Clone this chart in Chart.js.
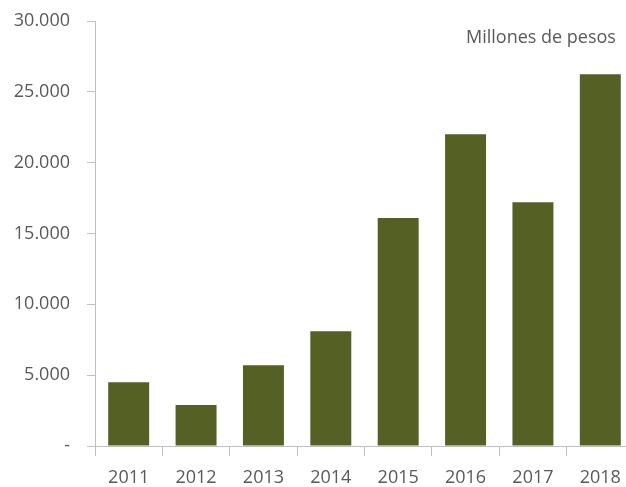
<!DOCTYPE html>
<html>
<head>
<meta charset="utf-8">
<script src="https://cdn.jsdelivr.net/npm/chart.js@4.4.1/dist/chart.umd.min.js"></script>
<style>
    html, body { margin: 0; padding: 0; background: #fff; overflow: hidden; }
    #wrap { position: relative; width: 640px; height: 487px; }
    #unit {
        position: absolute; top: 27px; left: 466px;
        font-family: 'Open Sans', sans-serif; font-size: 18px; line-height: 18px;
        color: #595959; white-space: nowrap;
    }
</style>
</head>
<body>
<div id="wrap">
    <canvas id="chart" width="640" height="487"></canvas>
    <div id="unit">Millones de pesos</div>
</div>
<script>
// Values (millones de pesos)
var years = ['2011', '2012', '2013', '2014', '2015', '2016', '2017', '2018'];
var amounts = [4500, 2900, 5700, 8100, 16100, 22000, 17200, 26250];
var yTicks = [0, 5000, 10000, 15000, 20000, 25000, 30000];

var axisGrey = '#bfbfbf';
var textGrey = '#595959';
var olive = '#556024';

function fmtMiles(v) {
    if (v === 0) return '-';
    return String(v).replace(/\B(?=(\d{3})+(?!\d))/g, '.');
}

Chart.defaults.font.family = "'Open Sans', sans-serif";
Chart.defaults.font.size = 18;
Chart.defaults.color = textGrey;

new Chart(document.getElementById('chart').getContext('2d'), {
    type: 'bar',
    data: {
        labels: years,
        datasets: [{
            data: amounts,
            backgroundColor: olive,
            borderWidth: 0,
            barPercentage: 0.608,
            categoryPercentage: 1
        }]
    },
    options: {
        responsive: false,
        animation: false,
        layout: { padding: { top: 21, right: 6, left: 0, bottom: 0 } },
        plugins: { legend: { display: false }, tooltip: { enabled: false } },
        scales: {
            x: {
                grid: { offset: true, drawOnChartArea: false, color: axisGrey, tickLength: 10 },
                border: { color: axisGrey },
                ticks: { padding: 11, maxRotation: 0 },
                afterFit: function (s) { s.height = 41; }
            },
            y: {
                min: 0,
                max: 30000,
                afterBuildTicks: function (s) { s.ticks = yTicks.map(function (v) { return { value: v }; }); },
                grid: { drawOnChartArea: false, color: axisGrey, tickLength: 8 },
                border: { color: axisGrey },
                // small lineHeight keeps the label half-height out of the top padding
                ticks: { padding: 17, font: { lineHeight: 0.3 }, callback: function (v) { return fmtMiles(v); } },
                afterFit: function (s) { s.width = 95; }
            }
        }
    }
});
</script>
</body>
</html>
